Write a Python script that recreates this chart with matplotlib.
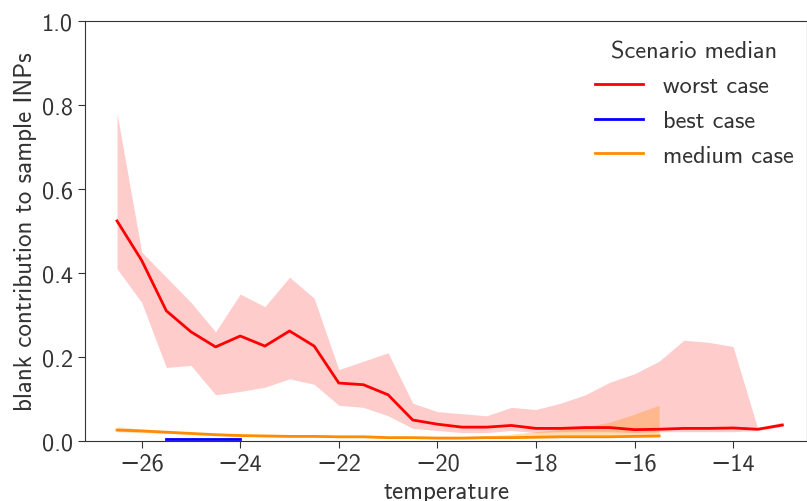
import matplotlib
matplotlib.use("Agg")
import matplotlib.pyplot as plt
import numpy as np

plt.rcParams['font.family'] = ['cmss10', 'DejaVu Sans']
plt.rcParams['axes.unicode_minus'] = True
plt.rcParams['axes.formatter.use_mathtext'] = False

# temperature grid (degC)
temp_worst = np.arange(-26.5, -12.9, 0.5)
worst_med = [0.524, 0.43, 0.31, 0.26, 0.224, 0.25, 0.226, 0.262, 0.226, 0.138,
             0.134, 0.11, 0.05, 0.04, 0.033, 0.033, 0.037, 0.03, 0.03, 0.032,
             0.032, 0.027, 0.028, 0.03, 0.03, 0.031, 0.028, 0.038]
worst_hi = [0.78, 0.45, 0.39, 0.33, 0.26, 0.35, 0.32, 0.39, 0.34, 0.17,
            0.19, 0.21, 0.09, 0.07, 0.065, 0.06, 0.08, 0.075, 0.09, 0.11,
            0.14, 0.16, 0.19, 0.24, 0.235, 0.225, 0.03, 0.045]
worst_lo = [0.41, 0.33, 0.175, 0.18, 0.11, 0.118, 0.128, 0.148, 0.135, 0.085,
            0.08, 0.06, 0.03, 0.025, 0.02, 0.02, 0.025, 0.02, 0.022, 0.022,
            0.022, 0.02, 0.022, 0.022, 0.022, 0.022, 0.025, 0.035]

temp_best = np.arange(-25.5, -23.9, 0.5)
best_med = [0.004, 0.004, 0.004, 0.004]
best_hi = [0.005, 0.005, 0.005, 0.005]
best_lo = [0.003, 0.003, 0.003, 0.003]

temp_medium = np.arange(-26.5, -15.4, 0.5)
medium_med = [0.026, 0.024, 0.021, 0.018, 0.015, 0.013, 0.012, 0.011, 0.011, 0.010,
              0.010, 0.008, 0.008, 0.007, 0.007, 0.008, 0.008, 0.009, 0.010, 0.010,
              0.010, 0.011, 0.012]
medium_hi = [0.034, 0.028, 0.024, 0.021, 0.018, 0.016, 0.014, 0.013, 0.013, 0.012,
             0.012, 0.010, 0.010, 0.010, 0.010, 0.012, 0.016, 0.022, 0.028, 0.034,
             0.045, 0.064, 0.085]
medium_lo = [0.022, 0.020, 0.018, 0.016, 0.013, 0.011, 0.010, 0.009, 0.009, 0.008,
             0.008, 0.006, 0.006, 0.005, 0.005, 0.006, 0.006, 0.007, 0.008, 0.008,
             0.008, 0.009, 0.010]

fig = plt.figure(figsize=(8.07, 5.02), dpi=100)
ax = fig.add_axes([85 / 807, 60 / 502, 722 / 807, 420 / 502])

# shaded spread behind each median line
ax.fill_between(temp_worst, worst_lo, worst_hi, color="red", alpha=0.2, lw=0)
ax.fill_between(temp_best, best_lo, best_hi, color="blue", alpha=0.2, lw=0)
ax.fill_between(temp_medium, medium_lo, medium_hi, color="darkorange", alpha=0.3, lw=0)
ax.plot(temp_worst, worst_med, color="red", lw=2, label="worst case")
ax.plot(temp_best, best_med, color="blue", lw=2, label="best case")
ax.plot(temp_medium, medium_med, color="darkorange", lw=2, label="medium case")

ax.set_xlim(-27.15, -12.5)
ax.set_ylim(0, 1.0)
ax.set_xticks([-26, -24, -22, -20, -18, -16, -14])
ax.set_yticks([0.0, 0.2, 0.4, 0.6, 0.8, 1.0])
ax.tick_params(labelsize=17.5, colors="#333333", length=5)
for s in ax.spines.values():
    s.set_color("#333333")
ax.set_xlabel("temperature", fontsize=18, color="#333333", labelpad=4)
ax.set_ylabel("blank contribution to sample INPs", fontsize=18, color="#333333")

leg = ax.legend(title="Scenario median", frameon=False, fontsize=17.5,
                title_fontsize=17.5, loc="upper left",
                bbox_to_anchor=(585 / 807, 470 / 502),
                bbox_transform=fig.transFigure, borderaxespad=0,
                labelspacing=0.52)
for t in leg.get_texts():
    t.set_color("#333333")
leg.get_title().set_color("#333333")

fig.savefig("out.png", dpi=100)
